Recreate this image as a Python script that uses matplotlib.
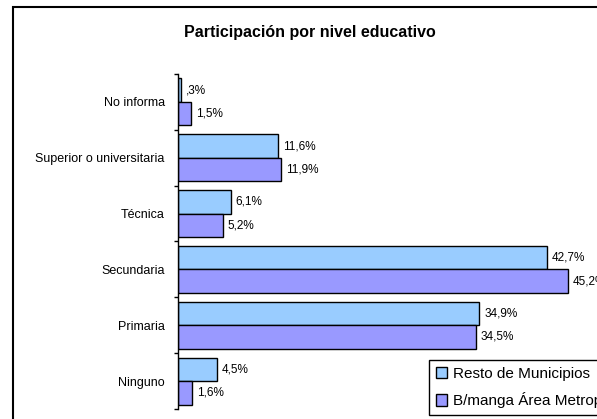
import matplotlib.pyplot as plt
from matplotlib.patches import Rectangle

plt.rcParams['font.family'] = ['Liberation Sans', 'DejaVu Sans']

# Data (bottom to top, as drawn)
categories = ["Ninguno", "Primaria", "Secundaria", "Técnica",
              "Superior o universitaria", "No informa"]
resto = [4.5, 34.9, 42.7, 6.1, 11.6, 0.3]
bmanga = [1.6, 34.5, 45.2, 5.2, 11.9, 1.5]
series_names = ["Resto de Municipios", "B/manga Área Metropolitana"]

c_resto = "#99CCFF"
c_bmanga = "#9999FF"

W, H = 597, 419
fig = plt.figure(figsize=(W / 100, H / 100), dpi=100)

# outer chart border (cut off on right and bottom)
fig.add_artist(Rectangle((12.5 / W, -0.1), 2.0, (H - 7) / H + 0.1,
                         transform=fig.transFigure, fill=False,
                         edgecolor="black", linewidth=1.5))

ax_left, ax_top, ax_bottom = 178, 74, 409
ax = fig.add_axes([ax_left / W, (H - ax_bottom) / H,
                   (W - ax_left) / W, (ax_bottom - ax_top) / H])

px_per_pct = 8.63
ax.set_xlim(0, (W - ax_left) / px_per_pct)
ax.set_ylim(-0.5, len(categories) - 0.5)

ypos = list(range(len(categories)))
h = 0.42
b1 = ax.barh([y + h / 2 for y in ypos], resto, height=h, color=c_resto,
             edgecolor="black", linewidth=1.0, label=series_names[0])
b2 = ax.barh([y - h / 2 for y in ypos], bmanga, height=h, color=c_bmanga,
             edgecolor="black", linewidth=1.0, label=series_names[1])


def fmt(v):
    s = f"{v:.1f}".replace(".", ",")
    if s.startswith("0,"):
        s = s[1:]
    return s + "%"


for bars, vals in ((b1, resto), (b2, bmanga)):
    for bar, v in zip(bars, vals):
        ax.annotate(fmt(v), (v, bar.get_y() + bar.get_height() / 2),
                    xytext=(3.5, 0), textcoords="offset points",
                    va="center", ha="left", fontsize=8.5,
                    annotation_clip=False)

# axes styling
for side in ("top", "right", "bottom"):
    ax.spines[side].set_visible(False)
ax.spines["left"].set_linewidth(1.0)
ax.set_xticks([])
ax.set_yticks(ypos)
ax.set_yticklabels(categories, fontsize=9)
ax.tick_params(axis="y", which="major", length=0, pad=9.5)
ax.set_yticks([y - 0.5 for y in range(len(categories) + 1)], minor=True)
ax.tick_params(axis="y", which="minor", length=3, width=1.0, direction="out")

fig.text(310 / W, (H - 33) / H, "Participación por nivel educativo",
         ha="center", va="center", fontsize=11.5, fontweight="bold")

leg = fig.legend(handles=[b1, b2], labels=series_names,
                 loc="upper left", bbox_to_anchor=(429 / W, (H - 360) / H),
                 fontsize=11, frameon=True, fancybox=False, shadow=False,
                 borderaxespad=0, borderpad=0.45, handlelength=0.75,
                 handleheight=0.75, handletextpad=0.35, labelspacing=0.75)
leg.get_frame().set_edgecolor("black")
leg.get_frame().set_linewidth(1.0)
leg.get_frame().set_alpha(1)

fig.savefig("out.png", dpi=100)
